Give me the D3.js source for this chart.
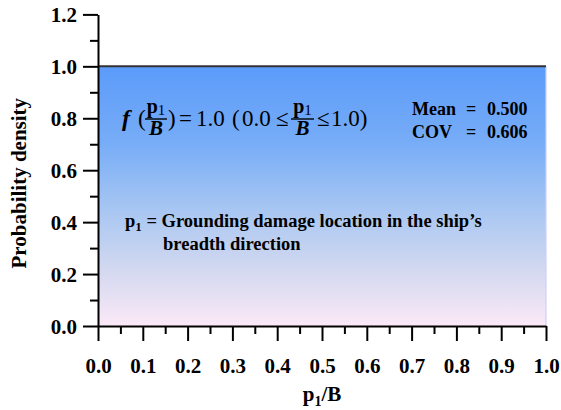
<!DOCTYPE html>
<html>
<head>
<meta charset="utf-8">
<script src="https://cdn.jsdelivr.net/npm/d3@7"></script>
<style>
  html, body { margin: 0; padding: 0; background: #fff; }
</style>
</head>
<body>
<svg id="chart" width="561" height="410"></svg>
<script>
// Uniform PDF of grounding damage location across the ship's breadth
const locations = [0.0, 1.0];
const density = [1.0, 1.0];
const xTickLabels = ["0.0","0.1","0.2","0.3","0.4","0.5","0.6","0.7","0.8","0.9","1.0"];
const yTickLabels = ["0.0","0.2","0.4","0.6","0.8","1.0","1.2"];
const stats = [["Mean", "0.500"], ["COV", "0.606"]];

const FONT = "Liberation Serif";
const svg = d3.select("#chart");
const margin = { left: 98, right: 15, top: 14.4, bottom: 84 };
const W = 561, H = 410;

const x = d3.scaleLinear().domain([0, 1]).range([margin.left, W - margin.right]);
const y = d3.scaleLinear().domain([0, 1.2]).range([H - margin.bottom, margin.top]);

const defs = svg.append("defs");
const grad = defs.append("linearGradient")
  .attr("id", "pdfFill").attr("x1", 0).attr("y1", 0).attr("x2", 0).attr("y2", 1);
[[0, "#5b9bfa"], [0.3, "#78adf7"], [0.55, "#a7c6f2"], [0.78, "#d2d8f0"], [1, "#fbe9f7"]]
  .forEach(([o, c]) => grad.append("stop").attr("offset", o).attr("stop-color", c));

const pts = locations.map((v, i) => ({ p: v, f: density[i] }));

// filled density region
svg.append("path")
  .datum(pts)
  .attr("fill", "url(#pdfFill)")
  .attr("d", d3.area().x(d => x(d.p)).y0(y(0)).y1(d => y(d.f)));

// right edge of the region
svg.append("line")
  .attr("x1", x(1)).attr("x2", x(1))
  .attr("y1", y(density[1])).attr("y2", y(0))
  .attr("stroke", "#cfcff8").attr("stroke-width", 1.2);

// density line
svg.append("path")
  .datum(pts)
  .attr("fill", "none").attr("stroke", "#333").attr("stroke-width", 2)
  .attr("d", d3.line().x(d => x(d.p)).y(d => y(d.f)));

// Axes
const majorY = yTickLabels.map(Number);
const minorY = d3.range(0.1, 1.2, 0.2).map(v => +v.toFixed(1));
const majorX = xTickLabels.map(Number);
const minorX = d3.range(0.05, 1.0, 0.1).map(v => +v.toFixed(2));

const styleAxis = g => {
  g.select(".domain").attr("stroke", "#000").attr("stroke-width", 2);
  g.selectAll(".tick line").attr("stroke", "#000").attr("stroke-width", 2);
  g.selectAll(".tick text")
    .style("font-family", FONT).style("font-weight", "bold")
    .style("font-size", "21px").attr("fill", "#000");
};

const yAxis = svg.append("g").attr("transform", `translate(${x(0)},0)`)
  .call(d3.axisLeft(y).tickValues(majorY).tickSize(15).tickSizeOuter(0)
    .tickFormat((d, i) => yTickLabels[i]).tickPadding(6));
styleAxis(yAxis);
yAxis.selectAll(".tick text").attr("dy", "0.34em");
svg.append("g").attr("transform", `translate(${x(0)},0)`)
  .call(d3.axisLeft(y).tickValues(minorY).tickSize(8).tickFormat(""))
  .call(g => { g.select(".domain").remove(); g.selectAll("line").attr("stroke", "#000").attr("stroke-width", 2); });

const xAxis = svg.append("g").attr("transform", `translate(0,${y(0)})`)
  .call(d3.axisBottom(x).tickValues(majorX).tickSize(15).tickSizeOuter(0)
    .tickFormat((d, i) => xTickLabels[i]).tickPadding(17));
styleAxis(xAxis);
svg.append("g").attr("transform", `translate(0,${y(0)})`)
  .call(d3.axisBottom(x).tickValues(minorX).tickSize(8).tickFormat(""))
  .call(g => { g.select(".domain").remove(); g.selectAll("line").attr("stroke", "#000").attr("stroke-width", 2); });

// helper for serif text
function txt(parent, size, bold, italic) {
  return parent.append("text")
    .style("font-family", FONT)
    .style("font-size", size + "px")
    .style("font-weight", bold ? "bold" : "normal")
    .style("font-style", italic ? "italic" : "normal")
    .attr("fill", "#000");
}
function sub(t, str, size, dy) {
  return t.append("tspan").style("font-size", size + "px").attr("dy", dy).text(str);
}

// Axis titles
txt(svg, 21, true)
  .attr("transform", `translate(26,${(y(0) + y(1.2)) / 2 + 13}) rotate(-90)`)
  .attr("text-anchor", "middle")
  .text("Probability density");

const xTitle = txt(svg, 21, true)
  .attr("x", (x(0) + x(1)) / 2).attr("y", 401)
  .attr("text-anchor", "middle");
xTitle.append("tspan").text("p");
sub(xTitle, "1", 14, 5);
xTitle.append("tspan").attr("dy", -5).text("/B");

// Formula f(p1/B) = 1.0 (0.0 ≤ p1/B ≤ 1.0)
const fs = 23;
const baseY = 126;
const formula = svg.append("g");
function word(str, at, opts = {}) {
  txt(formula, opts.size || fs, opts.bold, opts.italic)
    .attr("x", at).attr("y", baseY).text(str);
}
function fraction(x0, x1) {
  const g = formula.append("g");
  const cxm = (x0 + x1) / 2;
  const num = txt(g, 20, true).attr("x", cxm).attr("y", baseY - 13).attr("text-anchor", "middle");
  num.append("tspan").text("p");
  sub(num, "1", 15, 2).style("font-weight", "normal");
  txt(g, 21, true, true).attr("x", cxm).attr("y", baseY + 9)
    .attr("text-anchor", "middle").text("B");
  g.append("line").attr("x1", x0).attr("x2", x1)
    .attr("y1", baseY - 7).attr("y2", baseY - 7)
    .attr("stroke", "#000").attr("stroke-width", 1.4);
}
word("f", 122, { bold: true, italic: true, size: 24 });
word("(", 138);
fraction(145, 167);
word(")", 168);
word("=", 179);
word("1.0", 196);
word("(", 232);
word("0.0", 242);
word("\u2264", 276);
fraction(291, 314);
word("\u2264", 317);
word("1.0)", 331);

// Summary statistics
const statG = svg.append("g");
stats.forEach(([k, v], i) => {
  const yy = 115 + i * 23;
  txt(statG, 18, true).attr("x", 412).attr("y", yy).text(k);
  txt(statG, 18, true).attr("x", 466).attr("y", yy).text("=");
  txt(statG, 18, true).attr("x", 487).attr("y", yy).text(v);
});

// Variable definition note
const note = svg.append("g");
const l1 = txt(note, 18.5, true).attr("x", 125).attr("y", 227);
l1.append("tspan").text("p");
sub(l1, "1", 13, 4);
l1.append("tspan").attr("dy", -4).text(" = Grounding damage location in the ship\u2019s");
txt(note, 18.5, true).attr("x", 163).attr("y", 250).text("breadth direction");
</script>
</body>
</html>
